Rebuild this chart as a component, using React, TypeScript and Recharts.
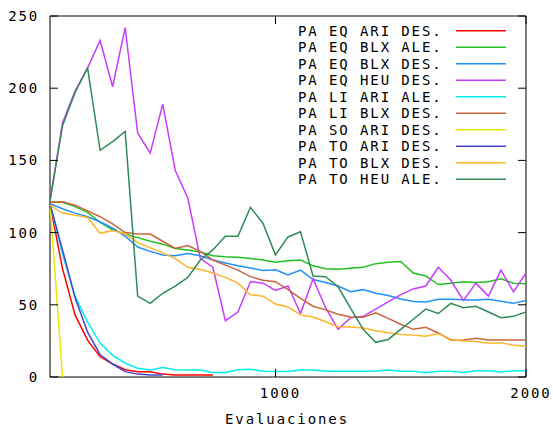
import React from 'react';
import { LineChart, Line, XAxis, YAxis, ReferenceArea } from 'recharts';

// Evaluations (x values)
const evaluaciones = [
  100, 150, 200, 250, 300, 350, 400, 450, 500, 550,
  600, 650, 700, 750, 800, 850, 900, 950, 1000, 1050,
  1100, 1150, 1200, 1250, 1300, 1350, 1400, 1450, 1500, 1550,
  1600, 1650, 1700, 1750, 1800, 1850, 1900, 1950, 2000,
];

const eqAriDes = [120, 75, 43, 25.5, 14, 9, 5, 3.7, 3.7, 2, 1.4, 1.4, 1.4, 1.4,
  null, null, null, null, null, null, null, null, null, null, null, null, null, null, null, null, null, null, null, null, null, null, null, null, null];
const eqBlxAle = [121, 121, 118, 114, 107, 102, 99, 96.5, 94, 92, 89, 88, 86.5, 84, 83.3, 82.9, 82, 81, 79.5, 80.5,
  81, 77, 75, 74.6, 75.3, 76, 78.5, 79.5, 80, 72, 70, 64, 65, 66, 65.5, 66, 68, 65, 64.5];
const eqBlxDes = [120, 116.5, 113.5, 111, 107.5, 103, 97.5, 90, 87, 84.5, 84, 85.5, 84, 81, 79, 77, 75.5, 73.8, 74.3, 70.6,
  74, 67.5, 65.5, 63, 59, 60.5, 58, 56.5, 54, 52.3, 52, 53.8, 53.8, 53.5, 53.3, 53.8, 52.5, 51, 53];
const eqHeuDes = [122, 176, 198, 214, 233, 201, 242, 169, 155, 189, 143, 124, 82, 76, 39, 45, 66, 65, 60, 63,
  44, 68, 48, 33, 41, 42, 47, 52, 57, 61, 63, 76, 67, 53, 65, 56, 74, 59, 72];
const liAriAle = [120, 85, 56, 38, 23.5, 15, 9.7, 6, 4.8, 6.5, 5, 4.8, 4.8, 3.2, 3.2, 5, 5.3, 4, 3.8, 3.8,
  4.8, 4.8, 4, 4, 4, 4, 4.2, 4.8, 4, 4, 3, 4, 4, 3.2, 4.3, 4.3, 3.5, 4.3, 4.3];
const liBlxDes = [121, 121.4, 119, 115, 111, 106, 100, 99, 99, 94, 89, 91, 87, 81, 77.5, 74, 69.5, 67, 66, 60.5,
  54.5, 49, 46.5, 43.5, 41.5, 41.3, 44.5, 40.6, 36.5, 33, 34.4, 30.5, 25.5, 25.6, 26.8, 25.6, 25.6, 25.6, 25.6];
const soAriDes = [120, 0,
  null, null, null, null, null, null, null, null, null, null, null, null, null, null, null, null, null, null,
  null, null, null, null, null, null, null, null, null, null, null, null, null, null, null, null, null];
const toAriDes = [120, 88, 55, 31, 15.5, 9, 3.7, 2, 1.4, 1.4,
  null, null, null, null, null, null, null, null, null, null, null, null, null, null, null, null, null, null, null, null, null, null, null, null, null, null, null, null, null];
const toBlxDes = [119, 113.5, 112, 110.5, 99.5, 101.5, 99, 93, 89.5, 86, 82, 76, 74.5, 72, 69, 65, 57, 56, 50.5, 48.5,
  43, 41.5, 38.3, 34.8, 34.6, 34, 32, 30.7, 29.5, 29, 28.2, 30, 26, 25, 24.5, 23.3, 23.8, 22, 21.5];
const toHeuAle = [122, 174, 197, 214, 157, 163, 170, 56, 51, 58, 63, 69, 81, 88, 97.5, 97.5, 117.5, 106.5, 84.5, 97,
  100.5, 70, 69.5, 62.5, 47.5, 33, 24, 26, 33, 40, 47, 44, 51, 48, 49, 45, 41, 42, 45];

const seriesNames = [
  'PA EQ ARI DES.', 'PA EQ BLX ALE.', 'PA EQ BLX DES.', 'PA EQ HEU DES.', 'PA LI ARI ALE.',
  'PA LI BLX DES.', 'PA SO ARI DES.', 'PA TO ARI DES.', 'PA TO BLX DES.', 'PA TO HEU ALE.',
];
const seriesValues = [eqAriDes, eqBlxAle, eqBlxDes, eqHeuDes, liAriAle, liBlxDes, soAriDes, toAriDes, toBlxDes, toHeuAle];
const seriesColors = ['#ff0000', '#22c022', '#2090ff', '#c83cff', '#00f0f0', '#c8643c', '#e8e800', '#4444cc', '#ffb42c', '#2e8b57'];

const xTicks = [1000, 2000];
const yTicks = [0, 50, 100, 150, 200, 250];
const xDomain = [100, 2000];
const yDomain = [0, 250];
const xLabel = 'Evaluaciones';

const data = evaluaciones.map((e, i) => {
  const row: Record<string, number | null> = { e };
  seriesValues.forEach((arr, k) => { row['s' + k] = arr[i]; });
  return row;
});

const W = 553;
const H = 428;
const MARGIN = { top: 16, right: 27, left: 0, bottom: 0 };
const Y_AXIS_W = 50;
const X_AXIS_H = 51;
const PLOT_TOP = MARGIN.top;
const PLOT_RIGHT = W - MARGIN.right;
const TICK_LEN = 8;
const FONT = '"DejaVu Sans Mono", monospace';
const FONT_SIZE = 14;
const LS = 1.9;

const XTick = (props: any) => {
  const { x, y, payload } = props;
  return (
    <g>
      <line x1={x} x2={x} y1={y} y2={y - TICK_LEN} stroke="#000" />
      <line x1={x} x2={x} y1={PLOT_TOP} y2={PLOT_TOP + TICK_LEN} stroke="#000" />
      <text x={x + 5} y={y + 21} textAnchor="middle" fontFamily={FONT} fontSize={FONT_SIZE} letterSpacing={LS} fill="#000">
        {payload.value}
      </text>
    </g>
  );
};

const YTick = (props: any) => {
  const { x, y, payload } = props;
  return (
    <g>
      <line x1={x} x2={x + TICK_LEN} y1={y} y2={y} stroke="#000" />
      <line x1={PLOT_RIGHT} x2={PLOT_RIGHT - TICK_LEN} y1={y} y2={y} stroke="#000" />
      <text x={x - 10.8} y={y + 5} textAnchor="end" fontFamily={FONT} fontSize={FONT_SIZE} letterSpacing={LS} fill="#000">
        {payload.value}
      </text>
    </g>
  );
};

const LEGEND_X = 298;
const LEGEND_Y0 = 30.7;
const LEGEND_DY = 16.5;
const LEGEND_LINE_X1 = 456;
const LEGEND_LINE_X2 = 506;

export default function App() {
  return (
    <div style={{ position: 'absolute', left: 0, top: 0, width: W, height: H, background: '#fff' }}>
      <LineChart width={W} height={H} data={data} margin={MARGIN}>
        <XAxis
          dataKey="e"
          type="number"
          domain={xDomain}
          ticks={xTicks}
          interval={0}
          allowDataOverflow
          axisLine={false}
          tickLine={false}
          tickSize={0}
          tickMargin={0}
          height={X_AXIS_H}
          tick={XTick}
        />
        <YAxis
          type="number"
          domain={yDomain}
          ticks={yTicks}
          interval={0}
          allowDataOverflow
          axisLine={false}
          tickLine={false}
          tickSize={0}
          tickMargin={0}
          width={Y_AXIS_W}
          tick={YTick}
        />
        <ReferenceArea x1={xDomain[0]} x2={xDomain[1]} y1={yDomain[0]} y2={yDomain[1]} fill="none" fillOpacity={0} stroke="#000" strokeWidth={1} />
        {seriesNames.map((name, k) => (
          <Line
            key={name}
            name={name}
            dataKey={'s' + k}
            type="linear"
            stroke={seriesColors[k]}
            strokeWidth={1.5}
            dot={false}
            activeDot={false}
            connectNulls={false}
            isAnimationActive={false}
          />
        ))}
      </LineChart>
      <svg width={W} height={H} style={{ position: 'absolute', left: 0, top: 0, pointerEvents: 'none' }}>
        {seriesNames.map((name, k) => {
          const cy = LEGEND_Y0 + k * LEGEND_DY;
          return (
            <g key={name}>
              <text x={LEGEND_X} y={cy + 5} fontFamily={FONT} fontSize={FONT_SIZE} letterSpacing={LS} fill="#000">{name}</text>
              <line x1={LEGEND_LINE_X1} x2={LEGEND_LINE_X2} y1={cy} y2={cy} stroke={seriesColors[k]} strokeWidth={1.5} />
            </g>
          );
        })}
        <text x={287} y={424} textAnchor="middle" fontFamily={FONT} fontSize={FONT_SIZE} letterSpacing={LS} fill="#000">{xLabel}</text>
      </svg>
    </div>
  );
}
